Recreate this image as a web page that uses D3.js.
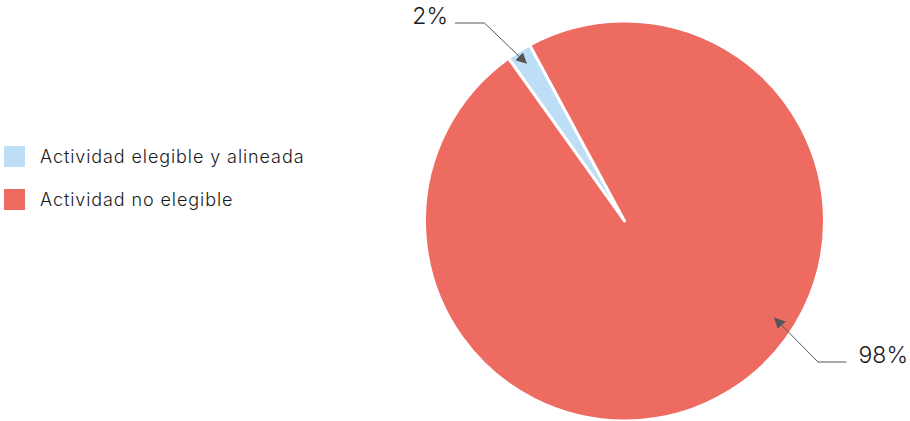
<!DOCTYPE html>
<html>
<head>
<meta charset="utf-8">
<script src="https://cdn.jsdelivr.net/npm/d3@7"></script>
<style>
  html, body { margin: 0; padding: 0; background: #fff; }
  svg { display: block; font-family: Inter, "Noto Sans", sans-serif; }
</style>
</head>
<body>
<div id="chart"></div>
<script>
const categories = ["Actividad elegible y alineada", "Actividad no elegible"];
const values = [2, 98];
const labels = ["2%", "98%"];
const colors = ["#BDDEF5", "#EE6B61"];

const width = 910, height = 421;
const cx = 624.5, cy = 221, radius = 200;

const svg = d3.select("#chart").append("svg")
    .attr("width", width)
    .attr("height", height);

const deg = Math.PI / 180;
const pie = d3.pie()
    .sort(null)
    .value(d => d)
    .startAngle(-35.5 * deg)
    .endAngle(-35.5 * deg + 2 * Math.PI);

const arcs = pie(values);
const arc = d3.arc().innerRadius(0).outerRadius(radius);

const g = svg.append("g").attr("transform", `translate(${cx},${cy})`);

g.selectAll("path.slice")
    .data(arcs)
    .join("path")
    .attr("class", "slice")
    .attr("d", arc)
    .attr("fill", (d, i) => colors[i])
    .attr("stroke", "#fff")
    .attr("stroke-width", 3)
    .attr("stroke-linejoin", "round");

// arrow marker
svg.append("defs").append("marker")
    .attr("id", "arrow")
    .attr("viewBox", "0 0 10 10")
    .attr("refX", 9)
    .attr("refY", 5)
    .attr("markerWidth", 11)
    .attr("markerHeight", 11)
    .attr("markerUnits", "userSpaceOnUse")
    .attr("orient", "auto")
    .append("path")
    .attr("d", "M0,0L10,5L0,10z")
    .attr("fill", "#555");

// leader lines: tip on the slice, elbow, end near the label
const leaders = [
    { angle: (arcs[0].startAngle + arcs[0].endAngle) / 2, r: 0.93, elbow: [-140, -198], end: [-169.5, -198], anchor: "end" },
    { angle: 122.9 * deg, r: 0.895, elbow: [193.5, 141], end: [222, 141], anchor: "start" }
];

leaders.forEach((l, i) => {
    const tip = [Math.sin(l.angle) * radius * l.r, -Math.cos(l.angle) * radius * l.r];
    g.append("path")
        .attr("d", d3.line()([l.end, l.elbow, tip]))
        .attr("fill", "none")
        .attr("stroke", "#555")
        .attr("stroke-width", 1)
        .attr("marker-end", "url(#arrow)");
    g.append("text")
        .attr("x", l.end[0] + (l.anchor === "end" ? -7 : 12))
        .attr("y", l.end[1] + 1)
        .attr("text-anchor", l.anchor)
        .attr("font-size", 23)
        .attr("font-weight", 300)
        .attr("fill", "#1a1a1a")
        .text(labels[i]);
});

// legend
const legend = svg.append("g").attr("transform", "translate(4,146)");
const item = legend.selectAll("g")
    .data(categories)
    .join("g")
    .attr("transform", (d, i) => `translate(0,${i * 43})`);

item.append("rect")
    .attr("width", 21)
    .attr("height", 21)
    .attr("fill", (d, i) => colors[i]);

item.append("text")
    .attr("x", 36)
    .attr("y", 16.5)
    .attr("font-size", 18)
    .attr("font-weight", 300)
    .attr("letter-spacing", 0.9)
    .attr("fill", "#1a1a1a")
    .text(d => d);
</script>
</body>
</html>
